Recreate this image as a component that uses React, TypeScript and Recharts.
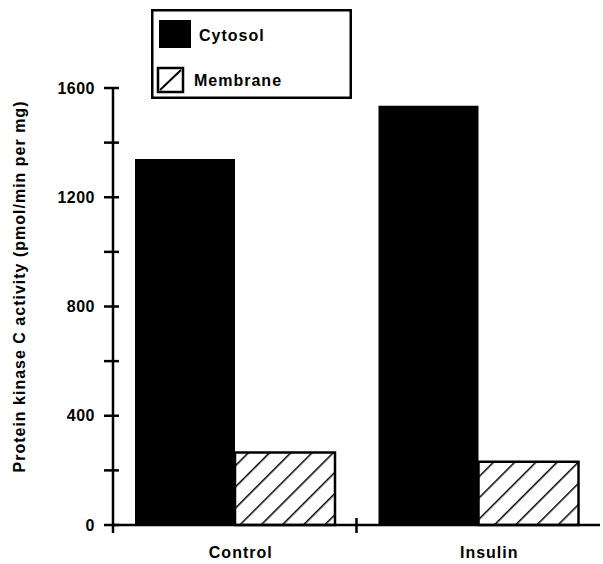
import React from 'react';
import { BarChart, Bar, XAxis, YAxis, Legend } from 'recharts';

const categories = ['Control', 'Insulin'];
const cytosol = [1340, 1535];
const membrane = [265, 232];
const yTicks = [0, 200, 400, 600, 800, 1000, 1200, 1400, 1600];
const yLabeledTicks = [0, 400, 800, 1200, 1600];
const yLabel = 'Protein kinase C activity (pmol/min per mg)';

const data = categories.map((c, i) => ({ name: c, Cytosol: cytosol[i], Membrane: membrane[i] }));

const FONT = '"Liberation Sans", Arial, Helvetica, sans-serif';
const textStyle = { fontFamily: FONT, fontWeight: 'bold' as const, fontSize: 16, letterSpacing: 1, fill: '#000' };

const YTick = (props: any) => {
  const { x, y, payload } = props;
  const v = payload.value;
  return (
    <g>
      <line x1={x - 9} x2={x + 6} y1={y} y2={y} stroke="#000" strokeWidth={2.5} />
      {v === 0 && <line x1={x} x2={x} y1={y} y2={y + 8} stroke="#000" strokeWidth={2.5} />}
      {yLabeledTicks.includes(v) && (
        <text x={x - 18} y={y} textAnchor="end" dominantBaseline="central" style={{ ...textStyle, letterSpacing: 0.5 }}>
          {v}
        </text>
      )}
    </g>
  );
};

const XTick = (props: any) => {
  const { x, y, payload, index } = props;
  const off = payload.offset ?? 0;
  return (
    <g>
      {index === 0 && <line x1={x + off} x2={x + off} y1={y - 7} y2={y + 8} stroke="#000" strokeWidth={2.5} />}
      <text x={x + 6 + index * 5} y={y + 33} textAnchor="middle" style={textStyle}>
        {payload.value}
      </text>
    </g>
  );
};

const YLabel = (props: any) => {
  const vb = props.viewBox || { x: 0, y: 0, width: 0, height: 0 };
  const cx = 19;
  const cy = vb.y + vb.height / 2 - 20;
  return (
    <text x={cx} y={cy} transform={`rotate(-90 ${cx} ${cy})`} textAnchor="middle" dominantBaseline="central" style={textStyle}>
      {yLabel}
    </text>
  );
};

const LegendBox = (props: any) => {
  const payload = props.payload || [];
  return (
    <svg width={201} height={90} style={{ display: 'block' }}>
      <rect x={1.25} y={1.25} width={198.5} height={87.5} fill="#fff" stroke="#000" strokeWidth={2.5} />
      {payload.map((p: any) => {
        const isMem = p.value === 'Membrane';
        return (
          <g key={p.value}>
            {isMem ? (
              <g>
                <rect x={7} y={59} width={25} height={24} fill="#fff" stroke="#000" strokeWidth={2.5} />
                <line x1={9} y1={81} x2={30} y2={61} stroke="#000" strokeWidth={2} />
              </g>
            ) : (
              <rect x={8} y={11} width={32} height={28} fill="#000" />
            )}
            <text x={isMem ? 43 : 48} y={isMem ? 71 : 26} dominantBaseline="central" style={textStyle}>
              {p.value}
            </text>
          </g>
        );
      })}
    </svg>
  );
};

export default function App() {
  return (
    <div style={{ position: 'absolute', left: 0, top: 0, background: '#fff' }}>
      <BarChart
        width={603}
        height={564}
        data={data}
        margin={{ top: 88, right: 3, bottom: 9, left: 0 }}
        barCategoryGap={22}
        barGap={0}
      >
        <defs>
          <pattern id="hatch" patternUnits="userSpaceOnUse" width={15} height={15} patternTransform="rotate(45)">
            <rect width={15} height={15} fill="#fff" />
            <line x1={0} y1={0} x2={0} y2={15} stroke="#000" strokeWidth={3} />
          </pattern>
        </defs>
        <XAxis
          dataKey="name"
          height={30}
          tickSize={0}
          tickMargin={0}
          axisLine={{ stroke: '#000', strokeWidth: 2.5 }}
          tickLine={false}
          tick={<XTick />}
          interval={0}
        />
        <YAxis
          width={113}
          domain={[0, 1600]}
          ticks={yTicks}
          interval={0}
          tickSize={0}
          tickMargin={0}
          axisLine={{ stroke: '#000', strokeWidth: 2.5 }}
          tickLine={false}
          tick={<YTick />}
          label={<YLabel />}
        />
        <Legend
          layout="vertical"
          align="center"
          verticalAlign="middle"
          content={<LegendBox />}
          wrapperStyle={{ position: 'absolute', left: 151, top: 9, width: 201, height: 90 }}
        />
        <Bar dataKey="Cytosol" fill="#000" isAnimationActive={false} />
        <Bar dataKey="Membrane" fill="url(#hatch)" stroke="#000" strokeWidth={2.5} isAnimationActive={false} />
      </BarChart>
    </div>
  );
}
